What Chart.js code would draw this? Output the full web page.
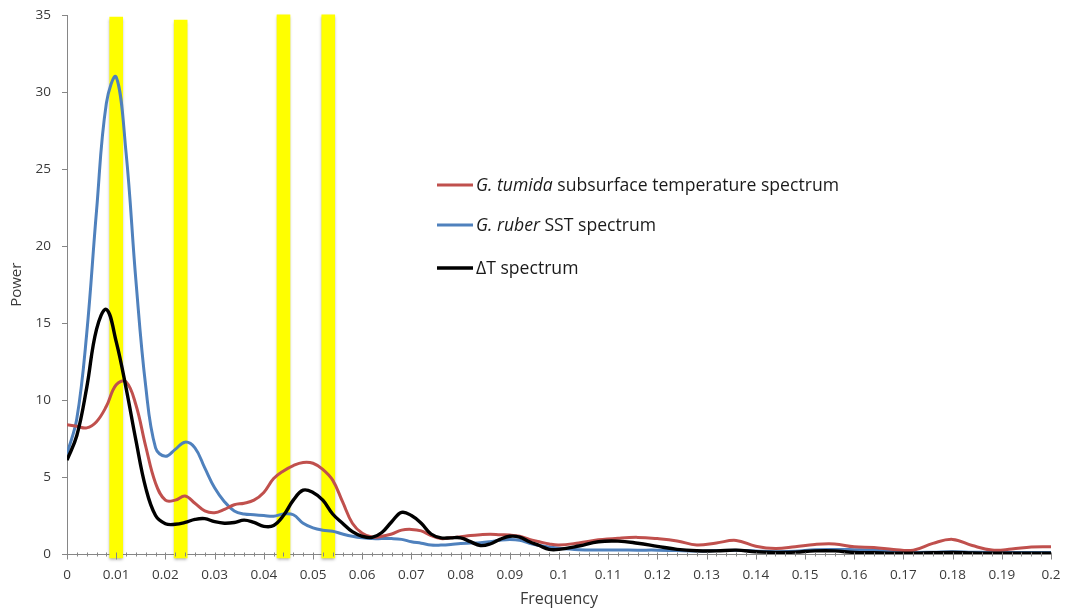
<!DOCTYPE html>
<html>
<head>
<meta charset="utf-8">
<script src="https://cdn.jsdelivr.net/npm/chart.js@4/dist/chart.umd.min.js"></script>
<style>
  html, body { margin: 0; padding: 0; background: #ffffff; }
  #wrap { width: 1068px; height: 613px; }
</style>
</head>
<body>
<div id="wrap"><canvas id="spectra" width="1068" height="613"></canvas></div>
<script>
// Frequency grid (cycles per unit) shared by the three spectra
const frequency = [
  0, 0.002, 0.004, 0.006, 0.008, 0.010, 0.012, 0.014, 0.016, 0.018,
  0.020, 0.022, 0.024, 0.026, 0.028, 0.030, 0.032, 0.034, 0.036, 0.038,
  0.040, 0.042, 0.044, 0.046, 0.048, 0.050, 0.052, 0.054, 0.056, 0.058,
  0.060, 0.062, 0.064, 0.066, 0.068, 0.070, 0.072, 0.074, 0.076, 0.078,
  0.080, 0.082, 0.084, 0.086, 0.088, 0.090, 0.092, 0.094, 0.096, 0.098,
  0.100, 0.104, 0.108, 0.112, 0.116, 0.120, 0.124, 0.128, 0.132, 0.136,
  0.140, 0.144, 0.148, 0.152, 0.156, 0.160, 0.164, 0.168, 0.172, 0.176,
  0.180, 0.184, 0.188, 0.192, 0.196, 0.200
];

// G. tumida subsurface temperature spectrum
const tumidaPower = [
  8.4, 8.3, 8.2, 8.6, 9.6, 11.0, 11.2, 9.7, 7.0, 4.6,
  3.5, 3.5, 3.77, 3.3, 2.8, 2.68, 2.9, 3.2, 3.3, 3.5,
  4.0, 4.9, 5.4, 5.75, 5.95, 5.9, 5.5, 4.8, 3.4, 2.0,
  1.35, 1.1, 1.15, 1.3, 1.55, 1.6, 1.5, 1.2, 1.0, 1.05,
  1.12, 1.2, 1.25, 1.28, 1.25, 1.23, 1.15, 0.95, 0.8, 0.65,
  0.58, 0.72, 0.92, 1.03, 1.08, 1.0, 0.85, 0.58, 0.72, 0.88,
  0.5, 0.35, 0.47, 0.62, 0.65, 0.47, 0.43, 0.3, 0.25, 0.69,
  0.95, 0.55, 0.26, 0.32, 0.45, 0.47
];

// G. ruber SST spectrum
const ruberPower = [
  6.5, 8.8, 14.3, 22.3, 29.3, 31.0, 26.1, 17.8, 10.9, 6.9,
  6.35, 6.8, 7.27, 6.9, 5.6, 4.3, 3.4, 2.8, 2.6, 2.55,
  2.5, 2.45, 2.6, 2.55, 2.0, 1.7, 1.55, 1.48, 1.3, 1.15,
  1.05, 1.0, 1.0, 1.0, 0.95, 0.8, 0.7, 0.58, 0.58, 0.62,
  0.69, 0.71, 0.73, 0.8, 0.9, 0.95, 0.9, 0.7, 0.55, 0.45,
  0.37, 0.28, 0.26, 0.26, 0.25, 0.25, 0.22, 0.2, 0.22, 0.25,
  0.2, 0.15, 0.18, 0.28, 0.3, 0.28, 0.25, 0.15, 0.1, 0.12,
  0.15, 0.12, 0.1, 0.1, 0.1, 0.1
];

// ΔT spectrum
const deltaTPower = [
  6.1, 7.7, 10.8, 14.6, 15.9, 13.8, 10.8, 7.4, 4.3, 2.5,
  1.97, 1.93, 2.05, 2.25, 2.3, 2.1, 2.0, 2.05, 2.2, 2.05,
  1.8, 1.85, 2.5, 3.5, 4.15, 4.0, 3.5, 2.6, 2.0, 1.45,
  1.15, 1.08, 1.4, 2.1, 2.7, 2.5, 2.0, 1.3, 1.05, 1.05,
  1.05, 0.8, 0.55, 0.65, 0.95, 1.15, 1.1, 0.8, 0.55, 0.3,
  0.3, 0.52, 0.8, 0.84, 0.7, 0.5, 0.3, 0.21, 0.2, 0.25,
  0.15, 0.1, 0.12, 0.2, 0.2, 0.1, 0.08, 0.05, 0.05, 0.08,
  0.1, 0.07, 0.05, 0.05, 0.05, 0.05
];

// Highlighted frequency bands (centre frequency and top of each band)
const bandCentres = [0.0100, 0.0231, 0.0440, 0.0531];
const bandTops = [34.9, 34.7, 35.05, 35.05];
const bandBase = -0.25;

// Legend entries: [text, italic] runs
const legendEntries = [
  [["G. tumida", true], [" subsurface temperature spectrum", false]],
  [["G. ruber", true], [" SST spectrum", false]],
  [["\u0394T spectrum", false]]
];

const FONT = "'Open Sans', Lato, 'DejaVu Sans', sans-serif";
const AXIS_GREY = '#868686';
const TEXT = '#3a3a3a';

const toPoints = (ys) => frequency.map((f, i) => ({ x: f, y: ys[i] }));

// Minor tick marks on the frequency axis, major ones crossing the axis line
const axisTicks = {
  id: 'axisTicks',
  afterDatasetsDraw(chart) {
    const xs = chart.scales.x;
    const ctx = chart.ctx;
    const y0 = chart.chartArea.bottom + 0.5;
    ctx.save();
    ctx.strokeStyle = AXIS_GREY;
    ctx.lineWidth = 1;
    ctx.beginPath();
    for (let k = 0; k <= 100; k++) {
      const px = Math.round(xs.getPixelForValue(k * 0.002)) + 0.5;
      if (k % 5 === 0) {
        ctx.moveTo(px, y0 - 2); ctx.lineTo(px, y0 + 5);
      } else {
        ctx.moveTo(px, y0 - 2); ctx.lineTo(px, y0 + 2);
      }
    }
    ctx.stroke();
    ctx.restore();
  }
};

// Soft drop shadow under the yellow bands
const bandShadow = {
  id: 'bandShadow',
  beforeDatasetDraw(chart, args) {
    if (args.meta.type !== 'bar') return;
    const ctx = chart.ctx;
    ctx.save();
    ctx.shadowColor = 'rgba(0,0,0,0.35)';
    ctx.shadowBlur = 3;
    ctx.shadowOffsetX = 0;
    ctx.shadowOffsetY = 2;
  },
  afterDatasetDraw(chart, args) {
    if (args.meta.type !== 'bar') return;
    chart.ctx.restore();
  }
};

// In-plot legend with italic species names
const inlineLegend = {
  id: 'inlineLegend',
  afterDraw(chart) {
    const ctx = chart.ctx;
    const x0 = 437, x1 = 473, tx = 476;
    const rows = [185, 225, 268];
    const lineSets = chart.data.datasets.filter(d => d.type === 'line');
    ctx.save();
    ctx.textBaseline = 'middle';
    legendEntries.forEach((runs, i) => {
      const ds = lineSets[i];
      ctx.strokeStyle = ds.borderColor;
      ctx.lineWidth = ds.borderWidth;
      ctx.beginPath();
      ctx.moveTo(x0, rows[i]);
      ctx.lineTo(x1, rows[i]);
      ctx.stroke();
      let x = tx;
      ctx.fillStyle = '#1a1a1a';
      runs.forEach(([text, italic]) => {
        ctx.font = (italic ? 'italic ' : '') + '17.6px ' + FONT;
        ctx.fillText(text, x, rows[i] + 1);
        x += ctx.measureText(text).width;
      });
    });
    ctx.restore();
  }
};

new Chart(document.getElementById('spectra'), {
  data: {
    datasets: [
      {
        type: 'line',
        label: 'G. tumida subsurface temperature spectrum',
        data: toPoints(tumidaPower),
        borderColor: '#C0504D',
        borderWidth: 3,
        pointRadius: 0,
        tension: 0.4,
        order: 2
      },
      {
        type: 'line',
        label: 'G. ruber SST spectrum',
        data: toPoints(ruberPower),
        borderColor: '#4F81BD',
        borderWidth: 3,
        pointRadius: 0,
        tension: 0.4,
        order: 3
      },
      {
        type: 'line',
        label: '\u0394T spectrum',
        data: toPoints(deltaTPower),
        borderColor: '#000000',
        borderWidth: 3.4,
        pointRadius: 0,
        tension: 0.4,
        order: 1
      },
      {
        type: 'bar',
        label: 'bands',
        data: bandCentres.map((f, i) => ({ x: f, y: [bandBase, bandTops[i]] })),
        backgroundColor: '#FFFF00',
        borderWidth: 0,
        barThickness: 13,
        clip: false,
        order: 10
      }
    ]
  },
  options: {
    responsive: false,
    animation: false,
    events: [],
    layout: { padding: { left: 0, top: 15.5, right: 17, bottom: 0 } },
    plugins: {
      legend: { display: false },
      tooltip: { enabled: false }
    },
    scales: {
      x: {
        type: 'linear',
        min: 0,
        max: 0.2,
        offset: false,
        afterFit: (s) => { s.height = 59; s.paddingLeft = 0; s.paddingRight = 0; },
        border: { display: true, color: AXIS_GREY, width: 1 },
        grid: { display: true, drawOnChartArea: false, drawTicks: false, color: AXIS_GREY },
        ticks: {
          stepSize: 0.01,
          padding: 13,
          color: TEXT,
          font: { family: FONT, size: 13.5 },
          maxRotation: 0,
          autoSkip: false,
          callback: (v) => String(Number(v.toFixed(3)))
        },
        title: {
          display: true,
          text: 'Frequency',
          color: TEXT,
          font: { family: FONT, size: 16 },
          padding: { top: 3, bottom: 4 }
        }
      },
      y: {
        type: 'linear',
        min: 0,
        max: 35,
        afterFit: (s) => { s.width = 67; s.paddingTop = 0; s.paddingBottom = 0; },
        border: { display: true, color: AXIS_GREY, width: 1 },
        grid: { display: true, drawOnChartArea: false, tickLength: 5, color: AXIS_GREY },
        ticks: {
          stepSize: 5,
          padding: 11,
          color: TEXT,
          font: { family: FONT, size: 13.5 }
        },
        title: {
          display: true,
          text: 'Power',
          color: TEXT,
          font: { family: FONT, size: 15 },
          padding: { top: 8, bottom: 0 }
        }
      }
    }
  },
  plugins: [axisTicks, bandShadow, inlineLegend]
});
</script>
</body>
</html>
